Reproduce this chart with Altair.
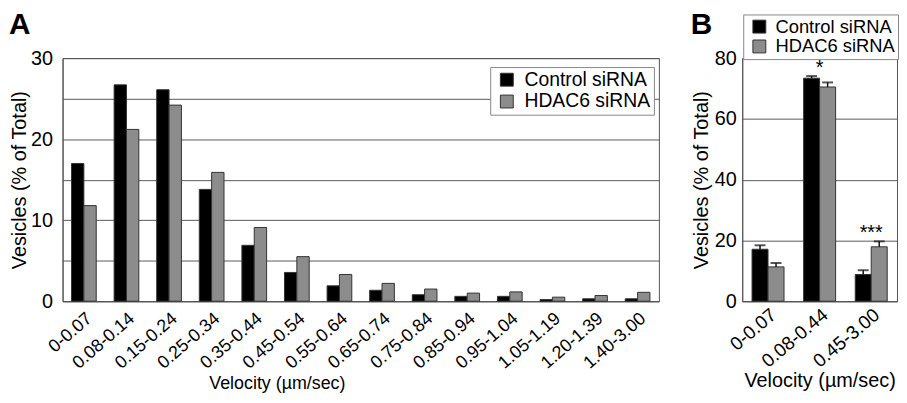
import altair as alt
import pandas as pd

groups = ["Control siRNA", "HDAC6 siRNA"]
colors = ["#000000", "#8c8c8c"]

bins_a = ["0-0.07", "0.08-0.14", "0.15-0.24", "0.25-0.34", "0.35-0.44", "0.45-0.54",
          "0.55-0.64", "0.65-0.74", "0.75-0.84", "0.85-0.94", "0.95-1.04", "1.05-1.19",
          "1.20-1.39", "1.40-3.00"]
control_a = [17.0, 26.7, 26.1, 13.8, 6.9, 3.55, 1.9, 1.35, 0.8, 0.6, 0.6, 0.2, 0.3, 0.3]
hdac6_a = [11.8, 21.2, 24.2, 15.9, 9.1, 5.5, 3.3, 2.2, 1.5, 1.0, 1.15, 0.5, 0.7, 1.1]

bins_b = ["0-0.07", "0.08-0.44", "0.45-3.00"]
control_b = [17.1, 73.4, 8.8]
control_b_err = [1.3, 0.7, 1.4]
hdac6_b = [11.3, 70.5, 17.9]
hdac6_b_err = [1.3, 1.5, 1.8]
stars_b = ["", "*", "***"]

FONT = "Liberation Sans"

# ---------- data tables ----------
rows_a = []
for i, b in enumerate(bins_a):
    rows_a.append({"bin": b, "group": groups[0], "value": control_a[i]})
    rows_a.append({"bin": b, "group": groups[1], "value": hdac6_a[i]})
df_a = pd.DataFrame(rows_a)

rows_b = []
for i, b in enumerate(bins_b):
    rows_b.append({"bin": b, "group": groups[0], "value": control_b[i],
                   "upper": control_b[i] + control_b_err[i]})
    rows_b.append({"bin": b, "group": groups[1], "value": hdac6_b[i],
                   "upper": hdac6_b[i] + hdac6_b_err[i]})
df_b = pd.DataFrame(rows_b)

df_stars = pd.DataFrame({
    "bin": bins_b,
    "star": stars_b,
    "top": [max(control_b[i] + control_b_err[i], hdac6_b[i] + hdac6_b_err[i]) for i in range(3)],
})
df_stars = df_stars[df_stars["star"] != ""]


def legend(x, y, size, offset):
    return alt.Legend(title=None, orient="none", legendX=x, legendY=y,
                      symbolType="square", symbolSize=169, symbolStrokeColor="#333",
                      symbolStrokeWidth=1, labelFontSize=size, labelFont=FONT,
                      labelColor="#000", strokeColor="#888", fillColor="white",
                      padding=3, rowPadding=1, labelOffset=offset, symbolOffset=4)


# ---------- panel A ----------
x_a = alt.X("bin:N", sort=bins_a,
            scale=alt.Scale(paddingInner=0.42, paddingOuter=0.21),
            axis=alt.Axis(title="Velocity (µm/sec)", labelAngle=-41, labelFontSize=18,
                          titleFontSize=18, ticks=False, labelPadding=8,
                          titleX=216, titlePadding=2, domainColor="#555"))
y_a = alt.Y("value:Q", scale=alt.Scale(domain=[0, 30], nice=False),
            axis=alt.Axis(title="Vesicles (% of Total)", values=list(range(0, 31, 5)),
                          labelExpr="datum.value % 10 === 0 ? datum.label : ''",
                          labelFontSize=20, titleFontSize=20, ticks=False,
                          labelPadding=10, titlePadding=1, gridColor="#5a5a5a",
                          domainColor="#555"))

bars_a = alt.Chart(df_a).mark_bar(stroke="#333", strokeWidth=1).encode(
    x=x_a, y=y_a,
    xOffset=alt.XOffset("group:N", sort=groups),
    color=alt.Color("group:N", scale=alt.Scale(domain=groups, range=colors),
                    legend=legend(431, 9, 19.5, 8)),
)
label_a = alt.Chart(pd.DataFrame({"t": ["A"]})).mark_text(
    fontSize=30, fontWeight="bold", font=FONT, align="left", baseline="top"
).encode(text="t:N", x=alt.value(-54), y=alt.value(-48))

panel_a = alt.layer(bars_a, label_a).properties(width=601, height=245)

# ---------- panel B ----------
x_b = alt.X("bin:N", sort=bins_b,
            scale=alt.Scale(paddingInner=0.38, paddingOuter=0.19),
            axis=alt.Axis(title="Velocity (µm/sec)", labelAngle=-40, labelFontSize=19,
                          titleFontSize=20, ticks=False, labelPadding=4,
                          titlePadding=0, domainColor="#555"))
y_b = alt.Y("value:Q", scale=alt.Scale(domain=[0, 80], nice=False),
            axis=alt.Axis(title="Vesicles (% of Total)", values=list(range(0, 81, 10)),
                          labelExpr="datum.value % 20 === 0 ? datum.label : ''",
                          labelFontSize=20, titleFontSize=20, ticks=False,
                          labelPadding=6, titlePadding=3, gridColor="#5a5a5a",
                          domainColor="#555"))

bars_b = alt.Chart(df_b).mark_bar(stroke="#333", strokeWidth=1).encode(
    x=x_b, y=y_b,
    xOffset=alt.XOffset("group:N", sort=groups),
    color=alt.Color("group:N", scale=alt.Scale(domain=groups, range=colors),
                    legend=legend(1, -44, 18.5, 7)),
)
err_b = alt.Chart(df_b).mark_rule(color="#111", strokeWidth=1.5).encode(
    x=alt.X("bin:N", sort=bins_b), xOffset=alt.XOffset("group:N", sort=groups),
    y="value:Q", y2="upper:Q",
)
cap_b = alt.Chart(df_b).mark_tick(color="#111", thickness=2, size=11).encode(
    x=alt.X("bin:N", sort=bins_b), xOffset=alt.XOffset("group:N", sort=groups),
    y="upper:Q",
)
star_b = alt.Chart(df_stars).mark_text(
    fontSize=20, font=FONT, baseline="bottom", dy=2
).encode(x=alt.X("bin:N", sort=bins_b), y="top:Q", text="star:N")
label_b = alt.Chart(pd.DataFrame({"t": ["B"]})).mark_text(
    fontSize=30, fontWeight="bold", font=FONT, align="left", baseline="top"
).encode(text="t:N", x=alt.value(-52), y=alt.value(-48))

panel_b = alt.layer(bars_b, err_b, cap_b, star_b, label_b).properties(width=156, height=245)

chart = alt.hconcat(panel_a, panel_b, spacing=30).resolve_scale(
    color="independent", x="independent", y="independent", xOffset="independent"
).resolve_legend(color="independent").properties(padding=0).configure(
    font=FONT
).configure_view(stroke="#555", strokeWidth=1).configure_axis(
    labelFont=FONT, titleFont=FONT, labelColor="#000", titleColor="#000",
    titleFontWeight="normal"
)

chart.save("out.html", embed_options={"renderer": "svg", "actions": False})
